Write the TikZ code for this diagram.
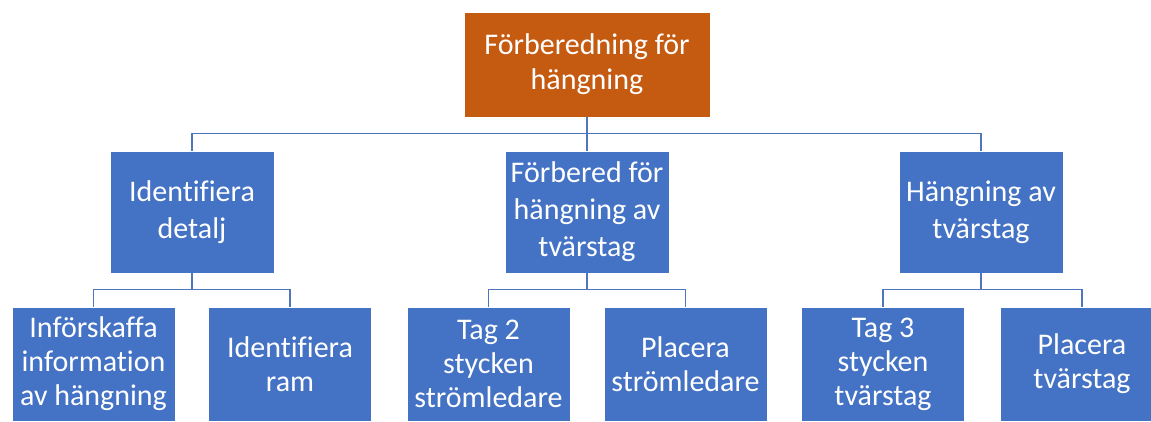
\documentclass[tikz,border=0pt]{standalone}
\usepackage{fontspec}
\setmainfont{Carlito}[Ligatures=CommonOff]
\definecolor{boxblue}{HTML}{4472C4}
\definecolor{boxorange}{HTML}{C55A11}
\definecolor{linkblue}{HTML}{4F76BD}
\begin{document}
\begin{tikzpicture}[x=1pt,y=-1pt,
  box/.style={fill=boxblue,draw=white,line width=0.6pt,text=white,align=center,inner sep=0pt,
    minimum width=164pt,font=\fontsize{30}{37}\selectfont},
  topbox/.style={box,fill=boxorange,minimum width=246pt,minimum height=105pt,font=\fontsize{30}{35}\selectfont},
  midbox/.style={box,minimum height=122pt},
  lowbox/.style={box,minimum width=163pt,minimum height=114pt,font=\fontsize{30}{34}\selectfont},
  conn/.style={draw=linkblue,line width=1.5pt}]
\useasboundingbox (0,0) rectangle (1151,421);
\fill[white] (0,0) rectangle (1151,421);
\node[topbox] (top) at (587,64.5) {Förberedning för\\hängning};
\node[midbox] (m1) at (192,212) {Identifiera\\detalj};
\node[midbox] (m2) at (587,212) {Förbered för\\hängning av\\tvärstag};
\node[midbox] (m3) at (981,212) {Hängning av\\tvärstag};
\node[lowbox] (a1) at (93.5,364) {Införskaffa\\information\\av hängning};
\node[lowbox] (a2) at (290,364) {Identifiera\\ram};
\node[lowbox] (b1) at (488.5,364) {Tag 2\\stycken\\strömledare};
\node[lowbox] (b2) at (685.5,364) {Placera\\strömledare};
\node[lowbox] (c1) at (883,364) {Tag 3\\stycken\\tvärstag};
\node[lowbox] (c2) at (1082,364) {Placera\\tvärstag};
% connectors level 1 -> 2
\draw[conn] (top.south) -- (m2.north);
\draw[conn] (m1.north) -- ++(0,-17) -| (m3.north);
% level 2 -> 3
\draw[conn] (m1.south) -- ++(0,17);
\draw[conn] (a1.north) -- ++(0,-17) -| (a2.north);
\draw[conn] (m2.south) -- ++(0,17);
\draw[conn] (b1.north) -- ++(0,-17) -| (b2.north);
\draw[conn] (m3.south) -- ++(0,17);
\draw[conn] (c1.north) -- ++(0,-17) -| (c2.north);
\end{tikzpicture}
\end{document}
